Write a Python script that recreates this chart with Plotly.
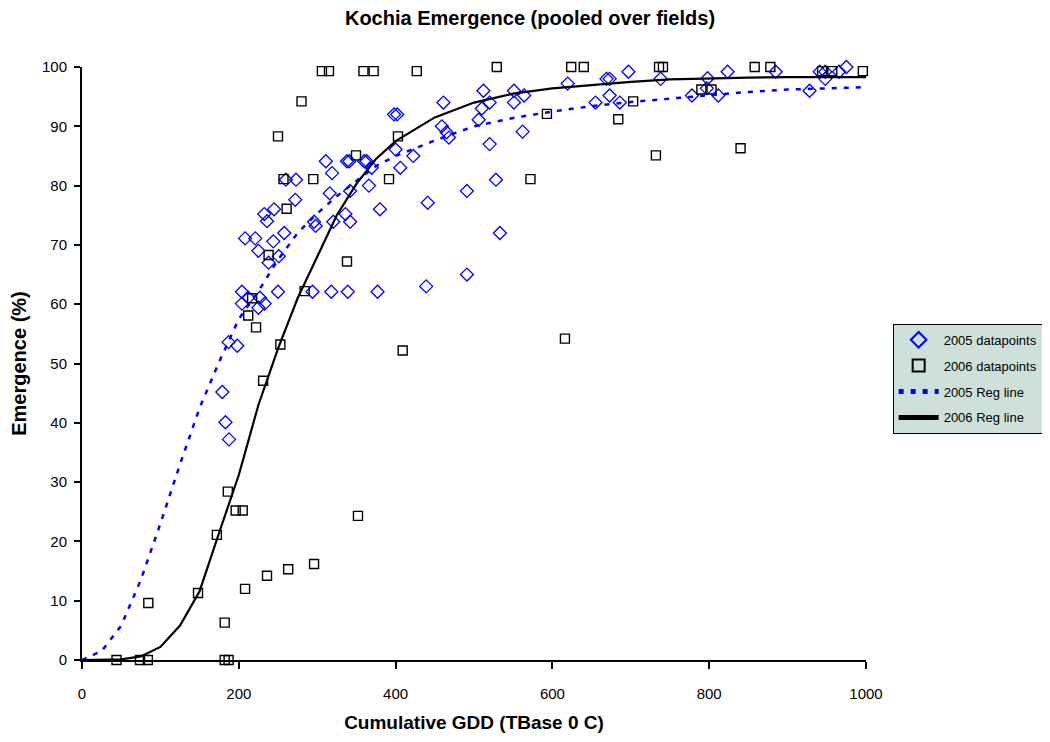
import plotly.graph_objects as go

# ---- data ----
x2005 = [204, 204, 212, 227, 225, 233, 250, 187, 198, 179, 183, 187.5, 208, 221, 225, 232.5, 236, 245,
         244, 258, 251, 238, 272, 260, 273, 296, 298, 311, 319, 316, 320.5, 336, 342, 338, 341, 360, 363,
         369.5, 366, 380, 342, 398, 402, 406, 400, 294, 318, 339, 377, 422.6, 441, 461, 459, 465, 468,
         491, 512, 510, 520, 506, 520, 528, 551, 564, 551, 562, 533, 491, 439, 619.5, 669, 673, 697, 673,
         655, 686, 738, 798, 797, 778, 811.6, 823.5, 884.8, 928, 941, 948, 948, 965.6, 975]
y2005 = [62.1, 60.1, 61.1, 61.1, 59.4, 60.1, 62.1, 53.6, 53, 45.2, 40.1, 37.2, 71.1, 71.1, 69, 75.2, 74, 76,
         70.6, 72, 68.1, 67, 77.6, 81, 81, 73.9, 73.2, 84.1, 82.1, 78.7, 73.9, 75.2, 73.9, 84.1, 84.1, 84.1, 84.1,
         83, 80, 76, 79.1, 92, 92, 83, 86.1, 62.1, 62.1, 62.1, 62.1, 85, 77.1, 94, 90, 89, 88.1,
         79.1, 96, 93, 94, 91.1, 87, 81, 96, 95.2, 94, 89.1, 72, 65, 63, 97.2, 98, 98, 99.2, 95.2,
         94, 94, 98, 98.1, 96.4, 95.2, 95.2, 99.2, 99.2, 96, 99.2, 99.2, 98, 99.2, 100]

x2006 = [44, 74, 84, 182, 187, 84.6, 148, 182, 172, 186, 196, 205, 208, 236, 263, 231, 253, 222, 212, 217,
         284, 296, 352, 409, 616, 306, 315, 359, 372, 280, 250, 349.5, 403, 257, 295, 391.6, 261, 238, 338,
         529, 427, 572, 593, 624, 640, 736, 741, 858, 878, 996, 944, 957, 703, 684, 790, 803, 732, 840]
y2006 = [0, 0, 0, 0, 0, 9.6, 11.3, 6.3, 21.1, 28.4, 25.2, 25.2, 12, 14.2, 15.3, 47.1, 53.2, 56.1, 58.1, 61,
         62.2, 16.2, 24.3, 52.2, 54.2, 99.3, 99.3, 99.3, 99.3, 94.2, 88.3, 85.1, 88.3, 81.1, 81.1, 81.1, 76.1, 68.3, 67.2,
         100, 99.3, 81.1, 92.1, 100, 100, 100, 100, 100, 100, 99.3, 99.3, 99.3, 94.2, 91.2, 96.2, 96.2, 85.1, 86.3]

reg_x = [0, 25, 50, 75, 100, 125, 150, 175, 200, 225, 250, 275, 300, 325, 350, 375, 400,
         450, 500, 550, 600, 650, 700, 750, 800, 850, 900, 950, 1000]
reg2005 = [0, 1.5, 5.8, 13.5, 23, 33, 42.5, 50.3, 57.5, 62.2, 67.5, 72, 75.3, 78.2, 80.8, 83.3, 85,
           87.6, 90, 91.4, 92.5, 93.4, 94.1, 94.7, 95.3, 95.8, 96.2, 96.4, 96.6]
reg2006 = [0, 0, 0.1, 0.6, 2.2, 5.8, 11.6, 21.5, 31.2, 43, 52.5, 61, 68, 75, 80.3, 84.5, 87.5,
           91.5, 94, 95.5, 96.4, 97, 97.5, 97.9, 98.1, 98.2, 98.3, 98.3, 98.3]

FONT = "Liberation Sans, Arial, sans-serif"
W, H = 1042, 734  # page body has an 8px margin

fig = go.Figure()
fig.add_trace(go.Scatter(x=x2005, y=y2005, mode="markers", name="2005 datapoints", legendgroup="a",
                         cliponaxis=False,
                         marker=dict(symbol="diamond-open", size=10, color="#0000ff", line=dict(width=1.3))))
fig.add_trace(go.Scatter(x=x2006, y=y2006, mode="markers", name="2006 datapoints", legendgroup="b",
                         cliponaxis=False,
                         marker=dict(symbol="square-open", size=9, color="#000000", line=dict(width=1.4))))
fig.add_trace(go.Scatter(x=reg_x, y=reg2005, mode="lines", name="2005 Reg line", legendgroup="c",
                         cliponaxis=False,
                         line=dict(color="#0000ff", width=2.5, dash="5px,7px")))
fig.add_trace(go.Scatter(x=reg_x, y=reg2006, mode="lines", name="2006 Reg line", legendgroup="d",
                         cliponaxis=False,
                         line=dict(color="#000000", width=2.2)))

fig.update_layout(
    width=W, height=H,
    margin=dict(l=74, r=184, t=59, b=82, autoexpand=False),
    paper_bgcolor="white", plot_bgcolor="white",
    font=dict(family=FONT, color="black", size=15),
    title=dict(text="<b>Kochia Emergence (pooled over fields)</b>", x=522 / W, xanchor="center",
               y=1 - 10 / H, yanchor="middle", yref="container",
               font=dict(family=FONT, size=20, color="black")),
    xaxis=dict(range=[0, 1000], tickvals=[0, 200, 400, 600, 800, 1000], showgrid=False, zeroline=False,
               showline=True, linecolor="black", linewidth=2, ticks="outside", ticklen=7, tickwidth=1.5,
               tickcolor="black", ticklabelstandoff=12, tickfont=dict(size=15),
               title=dict(text="<b>Cumulative GDD (TBase 0 C)</b>", standoff=15,
                          font=dict(family=FONT, size=19))),
    yaxis=dict(range=[0, 100], dtick=10, showgrid=False, zeroline=False,
               showline=True, linecolor="black", linewidth=2, ticks="outside", ticklen=6, tickwidth=1.5,
               tickcolor="black", ticklabelstandoff=4, tickfont=dict(size=15),
               title=dict(text="<b>Emergence (%)</b>", standoff=12,
                          font=dict(family=FONT, size=20))),
    legend=dict(x=1.034, y=0.567, xanchor="left", yanchor="top",
                bgcolor="#cde0da", bordercolor="black", borderwidth=1,
                font=dict(family=FONT, size=13, color="black"),
                tracegroupgap=6, itemwidth=40, itemsizing="constant"),
)

fig.write_html("out.html")
